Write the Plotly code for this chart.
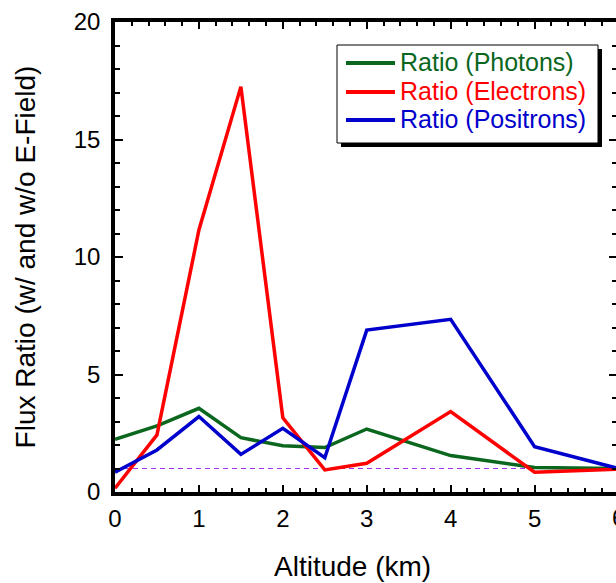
import plotly.graph_objects as go

altitude = [0, 0.5, 1, 1.5, 2, 2.5, 3, 4, 5, 6]
ratio_photons = [2.24, 2.81, 3.56, 2.31, 1.97, 1.89, 2.68, 1.55, 1.04, 1.0]
ratio_electrons = [0.16, 2.43, 11.15, 17.25, 3.16, 0.94, 1.22, 3.42, 0.84, 0.97]
ratio_positrons = [0.84, 1.79, 3.21, 1.6, 2.71, 1.46, 6.89, 7.35, 1.93, 1.0]
reference_x = [0, 6]
reference_y = [1, 1]
x_ticks = [0, 1, 2, 3, 4, 5]
y_ticks = [0, 5, 10, 15, 20]

names = ["Ratio (Photons)", "Ratio (Electrons)", "Ratio (Positrons)"]
colors = ["#0b661e", "#ff0000", "#0000cc"]
series = [ratio_photons, ratio_electrons, ratio_positrons]

FONT = "Liberation Sans, Arial, sans-serif"

W, H = 616, 583
L, R, T, B = 115, 616, 22, 492
px_per_unit = (618.5 - L) / 6.0
xmax = (R - L) / px_per_unit


def px(ix):  # window pixel x -> paper
    return (ix - L) / (R - L)


def py(iy):  # window pixel y -> paper
    return (B - iy) / (B - T)


fig = go.Figure()
fig.add_trace(go.Scatter(x=reference_x, y=reference_y, mode="lines",
                         line=dict(color="#a030f0", width=1, dash="5px,4px"),
                         showlegend=False, hoverinfo="skip"))
for n, c, s in zip(names, colors, series):
    fig.add_trace(go.Scatter(x=altitude, y=s, mode="lines", name=n,
                             line=dict(color=c, width=3.5), showlegend=False))

# invisible trace carrying the right-hand axis ticks
fig.add_trace(go.Scatter(x=[0], y=[0], yaxis="y2", mode="markers",
                         marker=dict(opacity=0), showlegend=False, hoverinfo="skip"))

tickfont = dict(family=FONT, size=24, color="black")

fig.update_layout(
    width=W, height=H,
    margin=dict(l=L, r=W - R, t=T, b=H - B),
    paper_bgcolor="white", plot_bgcolor="white",
    font=dict(family=FONT, size=24, color="black"),
    showlegend=False,
    xaxis=dict(range=[0, xmax], tickmode="array", tickvals=x_ticks,
               ticks="inside", ticklen=7, tickwidth=2, tickcolor="black",
               minor=dict(dtick=0.2, tick0=0, ticks="inside", ticklen=4, tickwidth=2, tickcolor="black"),
               showline=True, linewidth=3.5, linecolor="black", mirror="ticks",
               showgrid=False, zeroline=False, tickfont=tickfont, ticklabelstandoff=2),
    yaxis=dict(range=[0, 20], tickmode="array", tickvals=y_ticks,
               ticks="inside", ticklen=8, tickwidth=2, tickcolor="black",
               minor=dict(dtick=1, tick0=0, ticks="inside", ticklen=5, tickwidth=2, tickcolor="black"),
               showline=True, linewidth=3.5, linecolor="black", mirror=False,
               showgrid=False, zeroline=False, tickfont=tickfont, ticklabelstandoff=6,
               title=dict(text="Flux Ratio (w/ and w/o E-Field)", font=dict(family=FONT, size=28), standoff=31)),
    yaxis2=dict(range=[0, 20], overlaying="y", side="right", tickmode="array", tickvals=y_ticks,
                ticks="inside", ticklen=7, tickwidth=2, tickcolor="black",
                minor=dict(dtick=1, tick0=0, ticks="inside", ticklen=4, tickwidth=2, tickcolor="black"),
                showline=False, showgrid=False, zeroline=False, showticklabels=False),
)

# x-axis title (centred on the full, partly cut-off axis of the original)
fig.add_annotation(x=px(352.5), y=py(566), xref="paper", yref="paper",
                   text="Altitude (km)", showarrow=False, xanchor="center", yanchor="middle",
                   font=dict(family=FONT, size=28, color="black"))

# legend: shadow, box, line samples and coloured labels
fig.add_shape(type="rect", xref="paper", yref="paper",
              x0=px(341), x1=px(602), y0=py(147), y1=py(49),
              fillcolor="black", line=dict(width=0), layer="above")
fig.add_shape(type="rect", xref="paper", yref="paper",
              x0=px(337), x1=px(598), y0=py(143), y1=py(45),
              fillcolor="white", line=dict(color="black", width=1), layer="above")
row_y = [62, 91, 119]
for n, c, ry in zip(names, colors, row_y):
    fig.add_shape(type="line", xref="paper", yref="paper",
                  x0=px(346), x1=px(395), y0=py(ry + 1), y1=py(ry + 1),
                  line=dict(color=c, width=4), layer="above")
    fig.add_annotation(x=px(398), y=py(ry), xref="paper", yref="paper",
                       text=n, showarrow=False, xanchor="left", yanchor="middle",
                       font=dict(family=FONT, size=25, color=c))

# cut-off "6" tick label at the right edge
fig.add_annotation(x=px(618.5), y=0, xref="paper", yref="paper",
                   text="6", showarrow=False, xanchor="center", yanchor="top",
                   yshift=-10, font=tickfont)

fig.write_html("out.html", config={"displayModeBar": False},
               post_script="document.body.style.margin='0';document.body.style.overflow='hidden';")
